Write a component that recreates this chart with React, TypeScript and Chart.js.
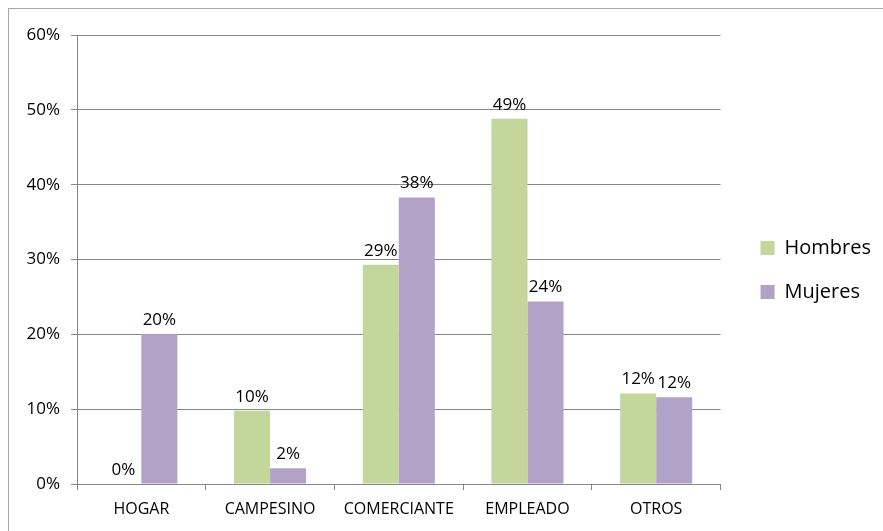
import React, { useEffect, useRef } from "react";
import { Chart, registerables } from "chart.js";

Chart.register(...registerables);

const categories = ["HOGAR", "CAMPESINO", "COMERCIANTE", "EMPLEADO", "OTROS"];
const hombres = [0, 0.098, 0.293, 0.488, 0.121];
const mujeres = [0.2, 0.021, 0.383, 0.244, 0.116];
const seriesNames = ["Hombres", "Mujeres"];
const yTicks = [0, 0.1, 0.2, 0.3, 0.4, 0.5, 0.6];

const FONT = "'Open Sans', 'DejaVu Sans', sans-serif";
const GRID = "#868686";

const dataLabelPlugin = {
  id: "dataLabels",
  afterDatasetsDraw(chart: any) {
    const ctx = chart.ctx;
    ctx.save();
    ctx.font = `17px ${FONT}`;
    ctx.fillStyle = "#000";
    ctx.textAlign = "center";
    ctx.textBaseline = "alphabetic";
    chart.data.datasets.forEach((ds: any, i: number) => {
      const meta = chart.getDatasetMeta(i);
      meta.data.forEach((el: any, j: number) => {
        const v = ds.data[j];
        ctx.fillText(Math.round(v * 100) + "%", el.x, el.y - 9);
      });
    });
    ctx.restore();
  },
};

export default function App() {
  const ref = useRef<HTMLCanvasElement | null>(null);
  useEffect(() => {
    if (!ref.current) return;
    const chart = new Chart(ref.current, {
      type: "bar",
      data: {
        labels: categories,
        datasets: [
          { label: seriesNames[0], data: hombres, backgroundColor: "#C3D69B", borderWidth: 0 },
          { label: seriesNames[1], data: mujeres, backgroundColor: "#B3A2C7", borderWidth: 0 },
        ],
      },
      options: {
        responsive: false,
        animation: false,
        layout: { padding: { left: 0, top: 0, right: 2, bottom: 0 } },
        datasets: { bar: { categoryPercentage: 0.56, barPercentage: 1.0 } },
        plugins: {
          tooltip: { enabled: false },
          legend: {
            position: "right",
            align: "center",
            labels: {
              font: { family: FONT, size: 20 },
              color: "#000",
              boxWidth: 14,
              boxHeight: 14,
              padding: 24,
            },
          },
        },
        scales: {
          x: {
            type: "category",
            position: "bottom",
            grid: {
              display: true,
              drawOnChartArea: false,
              drawTicks: true,
              tickLength: 6,
              color: GRID,
              offset: true,
            },
            border: { display: true, color: GRID, width: 1 },
            ticks: { font: { family: FONT, size: 16 }, color: "#000", padding: 10, maxRotation: 0 },
            afterFit: (s: any) => {
              s.height = 47;
            },
          },
          x2: {
            type: "category",
            position: "top",
            display: true,
            grid: { display: false },
            border: { display: false },
            ticks: { display: false },
            afterFit: (s: any) => {
              s.height = 26;
            },
          },
          y: {
            type: "linear",
            position: "left",
            min: 0,
            max: 0.6,
            afterBuildTicks: (s: any) => {
              s.ticks = yTicks.map((v) => ({ value: v }));
            },
            grid: { color: GRID, tickLength: 6, drawTicks: true, lineWidth: 1 },
            border: { display: true, color: GRID, width: 1 },
            ticks: {
              font: { family: FONT, size: 17 },
              color: "#000",
              padding: 11,
              callback: (v: any) => Math.round(Number(v) * 100) + "%",
            },
            afterFit: (s: any) => {
              s.width = 68;
            },
          },
          y2: {
            type: "linear",
            position: "right",
            display: true,
            grid: { display: false },
            border: { display: false },
            ticks: { display: false },
            afterFit: (s: any) => {
              s.width = 16;
            },
          },
        },
      },
      plugins: [dataLabelPlugin],
    });
    return () => chart.destroy();
  }, []);

  return (
    <div
      style={{
        position: "fixed",
        left: 8,
        top: 8,
        width: 875,
        height: 523,
        boxSizing: "border-box",
        borderTop: "1px solid #a6a6a6",
        borderLeft: "1px solid #a6a6a6",
        background: "#fff",
      }}
    >
      <canvas ref={ref} width={874} height={522} style={{ display: "block" }} />
    </div>
  );
}
